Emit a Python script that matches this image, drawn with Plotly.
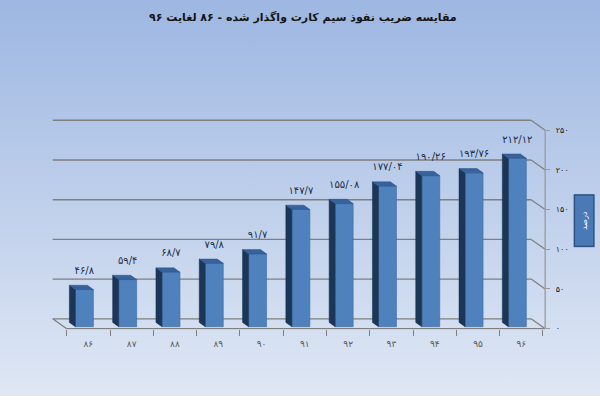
import base64
import plotly.graph_objects as go

# ---------------- data ----------------
years = ["۸۶", "۸۷", "۸۸", "۸۹", "۹۰", "۹۱", "۹۲", "۹۳", "۹۴", "۹۵", "۹۶"]
values = [46.8, 59.4, 68.7, 79.8, 91.7, 147.7, 155.08, 177.04, 190.26, 193.76, 212.12]
value_labels = ["۴۶/۸", "۵۹/۴", "۶۸/۷", "۷۹/۸", "۹۱/۷", "۱۴۷/۷", "۱۵۵/۰۸",
                "۱۷۷/۰۴", "۱۹۰/۲۶", "۱۹۳/۷۶", "۲۱۲/۱۲"]
y_ticks = [0, 50, 100, 150, 200, 250]
y_ticktext = ["۰", "۵۰", "۱۰۰", "۱۵۰", "۲۰۰", "۲۵۰"]
title = "مقایسه ضریب نفوذ سیم کارت واگذار شده - ۸۶ لغایت ۹۶"
y_title = "درصد"

# ---------------- pseudo-3D geometry (data units) ----------------
n = len(values)
xs = list(range(n))
wall_dx, wall_dy = 0.323, 12.47     # depth offset of back wall
bar_dx, bar_w, bar_base = -0.092, 0.416, 2.5
side_dx, side_dy = 0.139, 5.4
x_left, x_right = -0.5, 10.55
label_dy = 25.5

FONT = "DejaVu Sans"
GRID = "#7f7f7f"

fig = go.Figure()

# front faces
fig.add_trace(go.Bar(
    x=[x + bar_dx for x in xs], y=values, base=bar_base, width=bar_w,
    marker=dict(color="#4f81bd", line=dict(color="#3d6ca6", width=0.6)),
    hoverinfo="skip", showlegend=False))

# side faces and top faces
sx, sy, tx, ty = [], [], [], []
for x, v in zip(xs, values):
    x0 = x + bar_dx - bar_w / 2
    x1 = x + bar_dx + bar_w / 2
    top = bar_base + v
    sx += [x0, x0, x0 - side_dx, x0 - side_dx, x0, None]
    sy += [bar_base, top, top + side_dy, bar_base + side_dy, bar_base, None]
    tx += [x0, x1, x1 - side_dx, x0 - side_dx, x0, None]
    ty += [top, top, top + side_dy, top + side_dy, top, None]
fig.add_trace(go.Scatter(x=sx, y=sy, fill="toself", mode="lines",
                         line=dict(width=0.5, color="#17304f"), fillcolor="#1c3658",
                         hoverinfo="skip", showlegend=False))
fig.add_trace(go.Scatter(x=tx, y=ty, fill="toself", mode="lines",
                         line=dict(width=0.5, color="#2c5186"), fillcolor="#37629c",
                         hoverinfo="skip", showlegend=False))

# value labels
fig.add_trace(go.Scatter(
    x=[x + bar_dx for x in xs], y=[v + label_dy for v in values],
    mode="text", text=value_labels, textposition="middle center",
    textfont=dict(family=FONT, size=10, color="#1d2f4a"),
    cliponaxis=False, hoverinfo="skip", showlegend=False))

# gridlines (back wall + slant to axis), floor, axis line
shapes = []
for v in y_ticks[1:]:
    shapes.append(dict(type="line", xref="x", yref="y", layer="below",
                       x0=x_left - wall_dx, y0=v + wall_dy, x1=x_right - wall_dx, y1=v + wall_dy,
                       line=dict(color=GRID, width=1.4)))
    shapes.append(dict(type="line", xref="x", yref="y", layer="below",
                       x0=x_right - wall_dx, y0=v + wall_dy, x1=x_right, y1=v,
                       line=dict(color=GRID, width=1.2)))
floor = [(x_left, 0), (x_right, 0), (x_right - wall_dx, wall_dy), (x_left - wall_dx, wall_dy), (x_left, 0)]
for (a, b), (c, d) in zip(floor[:-1], floor[1:]):
    shapes.append(dict(type="line", xref="x", yref="y", layer="below",
                       x0=a, y0=b, x1=c, y1=d, line=dict(color=GRID, width=1.3)))
shapes.append(dict(type="line", xref="x", yref="y", layer="below",
                   x0=x_right, y0=0, x1=x_right, y1=y_ticks[-1],
                   line=dict(color="#9a9a9a", width=1.3)))

# background gradient
svg = ('<svg xmlns="http://www.w3.org/2000/svg" width="600" height="400" preserveAspectRatio="none">'
       '<defs><linearGradient id="g" x1="0" y1="0" x2="0" y2="1">'
       '<stop offset="0" stop-color="#9db7e2"/><stop offset="1" stop-color="#dfe7f4"/>'
       '</linearGradient></defs><rect width="600" height="400" fill="url(#g)"/></svg>')
bg_src = "data:image/svg+xml;base64," + base64.b64encode(svg.encode()).decode()

fig.update_layout(
    width=600, height=400,
    margin=dict(l=0, r=0, t=0, b=0),
    paper_bgcolor="rgba(0,0,0,0)", plot_bgcolor="rgba(0,0,0,0)",
    hovermode=False,
    images=[dict(source=bg_src, xref="paper", yref="paper", x=0, y=1,
                 sizex=1, sizey=1, xanchor="left", yanchor="top",
                 sizing="stretch", layer="below")],
    shapes=shapes,
    showlegend=False,
    xaxis=dict(range=[-1.0, 10.7], domain=[0.0751, 0.9194],
               showgrid=False, zeroline=False, showline=False,
               tickmode="array", tickvals=xs, ticktext=years, ticks="",
               ticklabelstandoff=8,
               tickfont=dict(family=FONT, size=9, color="#595959"),
               minor=dict(tickmode="array", tickvals=[i - 0.5 for i in range(n + 1)],
                          ticks="outside", ticklen=6, tickcolor=GRID, tickwidth=1,
                          showgrid=False)),
    yaxis=dict(range=[-1, 266], domain=[0.168, 0.70325],
               side="right", anchor="free", position=0.9087,
               showgrid=False, zeroline=False, showline=False,
               tickmode="array", tickvals=y_ticks, ticktext=y_ticktext,
               ticks="outside", ticklen=4, tickcolor="#9a9a9a",
               ticklabelstandoff=4,
               tickfont=dict(family=FONT, size=8, color="#262626")),
    annotations=[
        dict(text="<b>" + title + "</b>", xref="paper", yref="paper",
             x=0.505, y=0.955, xanchor="center", yanchor="middle", showarrow=False,
             font=dict(family=FONT, size=11, color="#141414")),
        dict(text=y_title, xref="paper", yref="paper", x=0.974, y=0.4425,
             xanchor="center", yanchor="middle",
             showarrow=False, textangle=-90, width=48, height=16,
             bgcolor="#4a7ab6", bordercolor="#2f5282", borderwidth=1.5, borderpad=1,
             font=dict(family=FONT, size=8, color="white")),
    ],
)

fig.write_html("out.html", config={"displayModeBar": False, "staticPlot": True},
               post_script="document.body.style.margin='0';")
